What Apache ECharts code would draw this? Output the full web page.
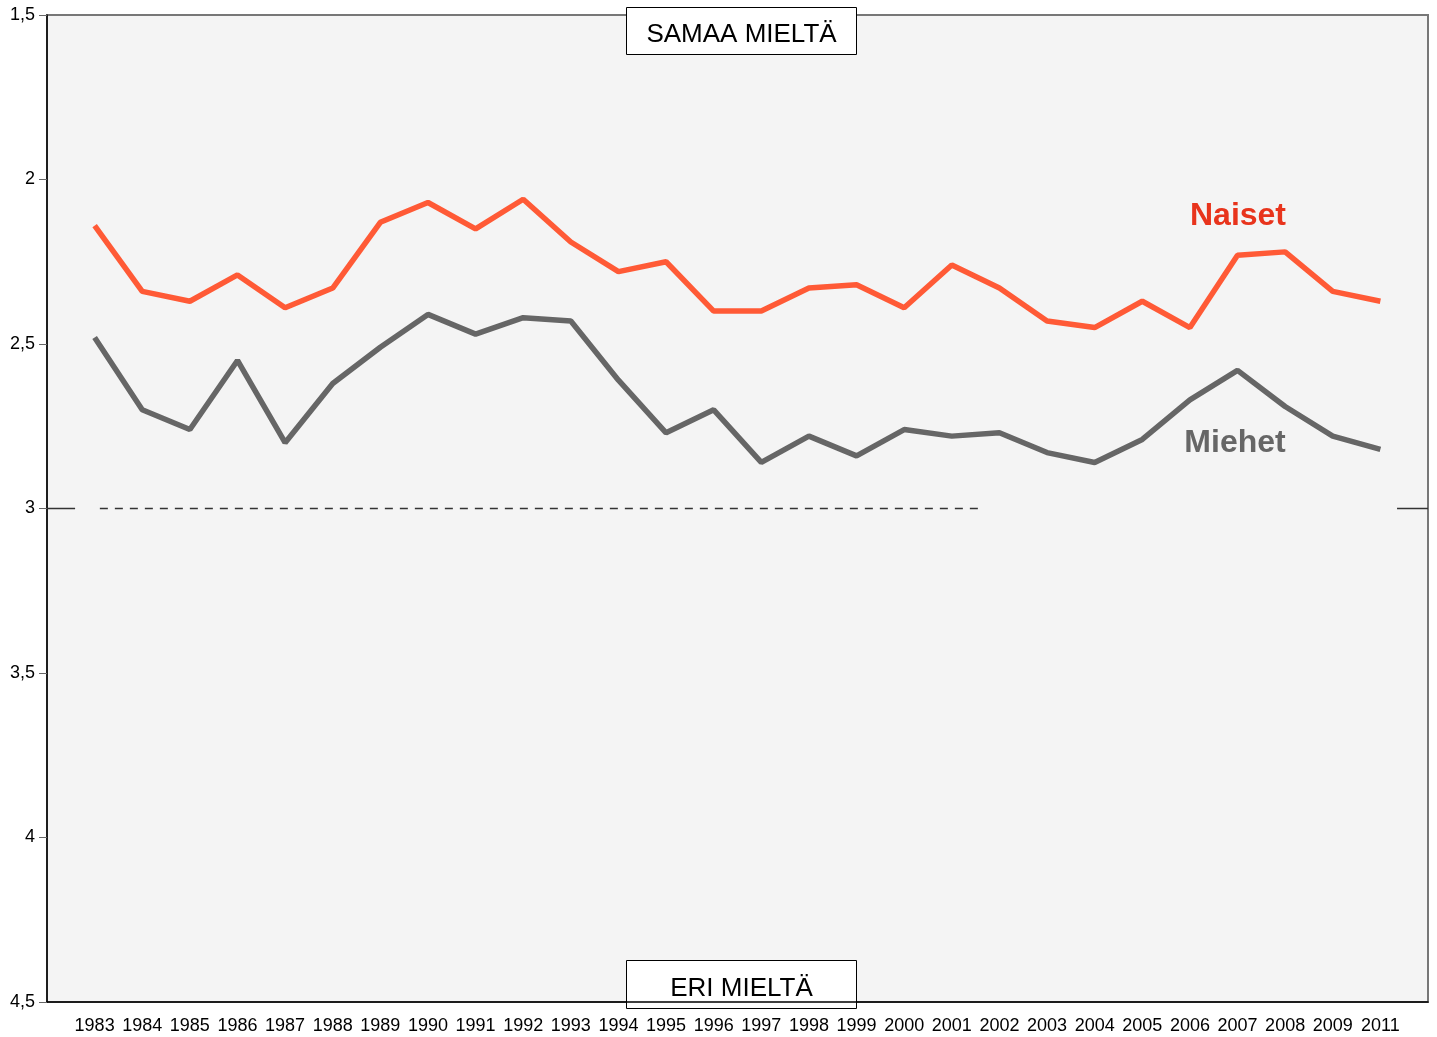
<!DOCTYPE html>
<html>
<head>
<meta charset="utf-8">
<script src="https://cdn.jsdelivr.net/npm/echarts@6/dist/echarts.min.js"></script>
<style>html,body{margin:0;padding:0;background:#fff;}#c{width:1437px;height:1037px;}</style>
</head>
<body>
<div id="c"></div>
<script>
const years = ['1983','1984','1985','1986','1987','1988','1989','1990','1991','1992','1993','1994','1995','1996','1997','1998','1999','2000','2001','2002','2003','2004','2005','2006','2007','2008','2009','2011'];
const naiset = [2.14,2.34,2.37,2.29,2.39,2.33,2.13,2.07,2.15,2.06,2.19,2.28,2.25,2.40,2.40,2.33,2.32,2.39,2.26,2.33,2.43,2.45,2.37,2.45,2.23,2.22,2.34,2.37];
const miehet = [2.48,2.70,2.76,2.55,2.80,2.62,2.51,2.41,2.47,2.42,2.43,2.61,2.77,2.70,2.86,2.78,2.84,2.76,2.78,2.77,2.83,2.86,2.79,2.67,2.58,2.69,2.78,2.82];
const yTicks = [1.5, 2, 2.5, 3, 3.5, 4, 4.5];
const refValue = 3;

const cats = [''].concat(years, ['']);
const pad = v => [null].concat(v, [null]);
const n = cats.length - 1;

const chart = echarts.init(document.getElementById('c'), null, {renderer: 'canvas'});
const font = 'Liberation Sans, Arial, sans-serif';
chart.setOption({
  animation: false,
  grid: {left: 47, right: 9, top: 15, bottom: 35, show: true, backgroundColor: '#f4f4f4', borderColor: '#777', borderWidth: 2},
  xAxis: [{
    type: 'category', data: cats, boundaryGap: false,
    axisLine: {lineStyle: {color: '#000', width: 1.5}},
    axisTick: {show: false},
    axisLabel: {color: '#000', fontSize: 18, fontFamily: font, margin: 15, interval: 0},
    splitLine: {show: false}
  }, {
    type: 'value', min: 0, max: n, show: false
  }],
  yAxis: {
    type: 'value', inverse: true, min: 1.5, max: 4.5, interval: 0.5,
    axisLine: {show: true, lineStyle: {color: '#000', width: 1.5}},
    axisTick: {show: true, length: 8, lineStyle: {color: '#666'}},
    axisLabel: {color: '#000', fontSize: 18, fontFamily: font, margin: 12,
      formatter: v => yTicks.includes(v) ? String(v).replace('.', ',') : ''},
    splitLine: {show: false}
  },
  series: [
    {type: 'line', xAxisIndex: 1, data: [[0, refValue], [0.59, refValue]], symbol: 'none', silent: true,
      lineStyle: {color: '#333', width: 1.5}},
    {type: 'line', xAxisIndex: 1, data: [[1.11, refValue], [19.59, refValue]], symbol: 'none', silent: true,
      lineStyle: {color: '#333', width: 1.5, type: [8, 7]}},
    {type: 'line', xAxisIndex: 1, data: [[28.35, refValue], [n, refValue]], symbol: 'none', silent: true,
      lineStyle: {color: '#333', width: 1.5}},
    {name: 'Naiset', type: 'line', data: pad(naiset), symbol: 'none', lineStyle: {color: '#ff5a36', width: 5.5}},
    {name: 'Miehet', type: 'line', data: pad(miehet), symbol: 'none', lineStyle: {color: '#666666', width: 5.5}}
  ],
  graphic: [
    {type: 'group', left: 626, top: 7, children: [
      {type: 'rect', shape: {x: 0, y: 0, width: 230, height: 47}, style: {fill: '#fff', stroke: '#000', lineWidth: 1}},
      {type: 'text', x: 115, y: 27, style: {text: 'SAMAA MIELTÄ', font: '26px ' + font, fill: '#000', textAlign: 'center', textVerticalAlign: 'middle'}}
    ]},
    {type: 'group', left: 626, top: 960, children: [
      {type: 'rect', shape: {x: 0, y: 0, width: 230, height: 48}, style: {fill: '#fff', stroke: '#000', lineWidth: 1}},
      {type: 'text', x: 115, y: 28, style: {text: 'ERI MIELTÄ', font: '26px ' + font, fill: '#000', textAlign: 'center', textVerticalAlign: 'middle'}}
    ]},
    {type: 'text', x: 1238, y: 216, style: {text: 'Naiset', font: 'bold 32px ' + font, fill: '#e8341c', textAlign: 'center', textVerticalAlign: 'middle'}},
    {type: 'text', x: 1235, y: 443, style: {text: 'Miehet', font: 'bold 32px ' + font, fill: '#666666', textAlign: 'center', textVerticalAlign: 'middle'}}
  ]
});
</script>
</body>
</html>
